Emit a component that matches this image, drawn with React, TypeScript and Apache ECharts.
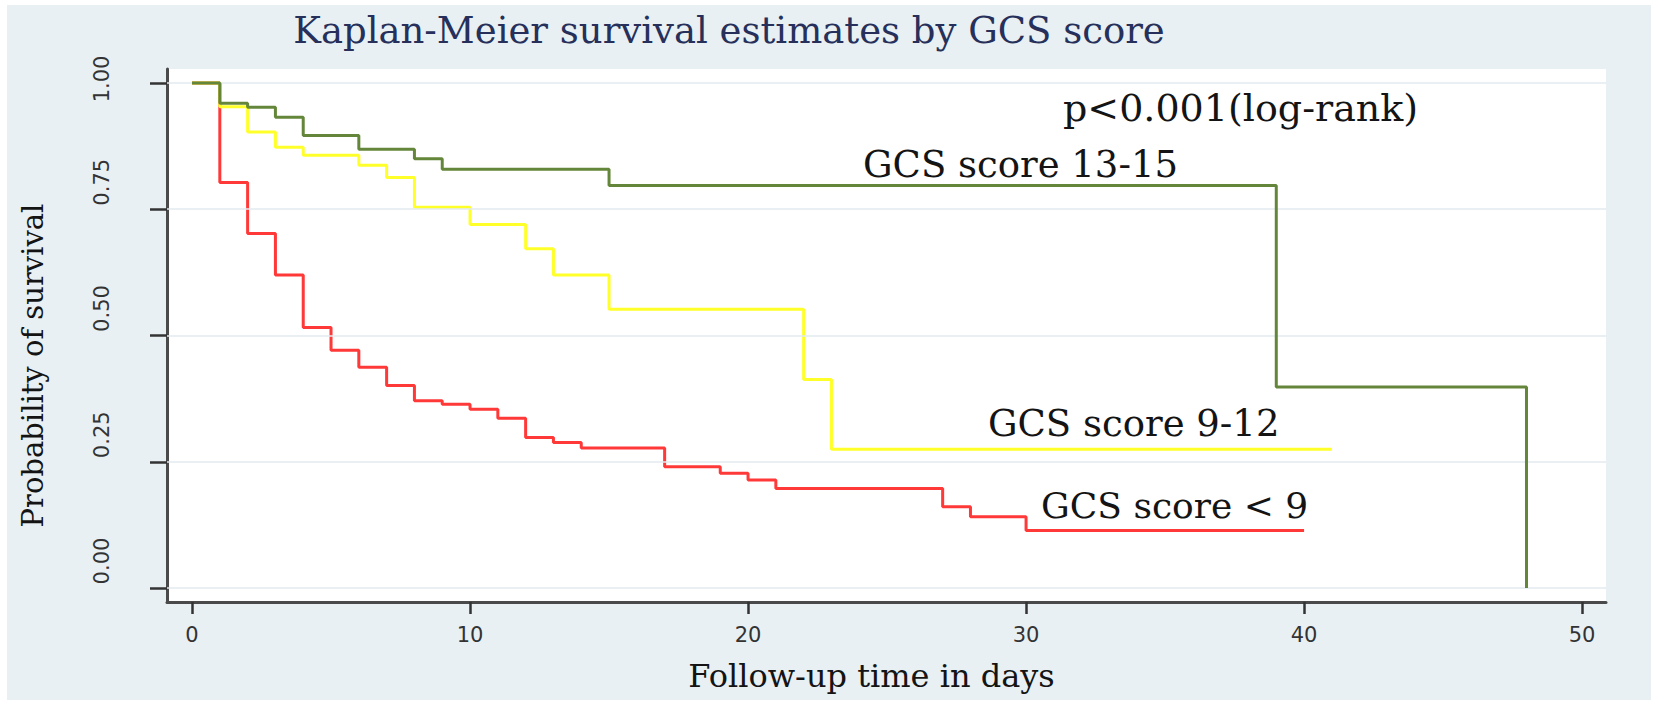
import React, { useEffect, useRef } from "react";
import * as echarts from "echarts";

// ---- data ----
const xTicks = [0, 10, 20, 30, 40, 50];
const yTicks = [0, 0.25, 0.5, 0.75, 1];

const seriesNames = ["GCS score < 9", "GCS score 9-12", "GCS score 13-15"];
const seriesColors = ["#ff3838", "#ffff2a", "#64863a"];

// [day, survival probability] after each event (Kaplan-Meier steps)
const gcsBelow9: [number, number][] = [
  [0, 1], [1, 0.803], [2, 0.702], [3, 0.62], [4, 0.516], [5, 0.471], [6, 0.437],
  [7, 0.401], [8, 0.371], [9, 0.364], [10, 0.354], [11, 0.336], [12, 0.298],
  [13, 0.288], [14, 0.277], [17, 0.24], [19, 0.227], [20, 0.214], [21, 0.197],
  [27, 0.161], [28, 0.141], [30, 0.114], [40, 0.114],
];
const gcs9to12: [number, number][] = [
  [0, 1], [1, 0.953], [2, 0.903], [3, 0.873], [4, 0.857], [6, 0.837], [7, 0.813],
  [8, 0.754], [10, 0.72], [12, 0.672], [13, 0.62], [15, 0.552], [22, 0.413],
  [23, 0.275], [41, 0.275],
];
const gcs13to15: [number, number][] = [
  [0, 1], [1, 0.96], [2, 0.952], [3, 0.932], [4, 0.896], [6, 0.869], [8, 0.85],
  [9, 0.829], [15, 0.797], [39, 0.398], [48, 0],
];
const seriesData = [gcsBelow9, gcs9to12, gcs13to15];

const titleText = "Kaplan-Meier survival estimates by GCS score";
const pValueText = "p<0.001(log-rank)";
const xAxisTitle = "Follow-up time in days";
const yAxisTitle = "Probability of survival";

const SERIF = "DejaVu Serif";
const SANS = "DejaVu Sans";

export default function App() {
  const ref = useRef<HTMLDivElement>(null);

  useEffect(() => {
    document.body.style.margin = "0";
    if (!ref.current) return;
    const chart = echarts.init(ref.current, undefined, { renderer: "svg" });

    const annotation = (text: string, x: number, y: number, align: string, size: number) => ({
      type: "text",
      x,
      y,
      z: 10,
      silent: true,
      style: {
        text,
        fill: "#141414",
        fontFamily: SERIF,
        fontSize: size,
        align,
        verticalAlign: "middle",
      },
    });

    const option: any = {
      animation: false,
      backgroundColor: "#ffffff",
      title: {
        text: titleText,
        left: 729,
        top: 12,
        textAlign: "center",
        padding: 0,
        textStyle: {
          fontFamily: SERIF,
          fontSize: 37,
          fontWeight: "normal",
          color: "#26305a",
        },
      },
      grid: {
        left: 167,
        top: 69,
        right: 51,
        bottom: 106,
        show: true,
        backgroundColor: "#ffffff",
        borderWidth: 0,
      },
      graphic: [
        {
          type: "rect",
          z: -100,
          silent: true,
          shape: { x: 7, y: 5, width: 1644, height: 695 },
          style: { fill: "#e8f0f3" },
        },
        annotation(pValueText, 1063, 108, "left", 38),
        annotation(seriesNames[2], 1178, 164, "right", 37),
        annotation(seriesNames[1], 988, 423, "left", 37),
        annotation(seriesNames[0], 1041, 505, "left", 36),
      ],
      xAxis: {
        type: "value",
        min: -0.9,
        max: 50.86,
        name: xAxisTitle,
        nameLocation: "middle",
        nameGap: 58,
        nameTextStyle: {
          fontFamily: SERIF,
          fontSize: 32,
          color: "#141414",
          padding: [0, 30, 0, 0],
        },
        axisLine: { show: true, onZero: false, lineStyle: { color: "#4a4a4a", width: 3 } },
        axisTick: {
          show: true,
          customValues: xTicks,
          length: 12,
          lineStyle: { color: "#333333", width: 2.5 },
        },
        axisLabel: {
          customValues: xTicks,
          margin: 22,
          fontFamily: SANS,
          fontSize: 21,
          color: "#333333",
        },
        splitLine: { show: false },
      },
      yAxis: {
        type: "value",
        min: -0.0277,
        max: 1.0277,
        name: yAxisTitle,
        nameLocation: "middle",
        nameGap: 120,
        nameTextStyle: {
          fontFamily: SERIF,
          fontSize: 29,
          color: "#141414",
          padding: [0, 60, 0, 0],
        },
        axisLine: { show: true, onZero: false, lineStyle: { color: "#4a4a4a", width: 3 } },
        axisTick: {
          show: true,
          customValues: yTicks,
          length: 17,
          lineStyle: { color: "#333333", width: 2.5 },
        },
        axisLabel: {
          customValues: yTicks,
          rotate: 90,
          align: "center",
          verticalAlign: "bottom",
          margin: 55,
          fontFamily: SANS,
          fontSize: 21,
          color: "#333333",
          formatter: (v: number) =>
            v >= 1 ? `{top|${v.toFixed(2)}}` : `{low|${v.toFixed(2)}}`,
          rich: {
            top: { fontFamily: SANS, fontSize: 21, color: "#333333", padding: [0, 0, 0, 8] },
            low: {
              fontFamily: SANS,
              fontSize: 21,
              color: "#333333",
              padding: [0, 0, 0, 54],
            },
          },
        },
        splitLine: { show: false },
      },
      series: [
        {
          name: "grid",
          type: "line",
          data: [],
          z: 1,
          silent: true,
          markLine: {
            silent: true,
            symbol: "none",
            animation: false,
            label: { show: false },
            lineStyle: { color: "#e2eaee", width: 1.5, type: "solid" },
            data: yTicks.map((v) => ({ yAxis: v })),
          },
        },
        ...seriesData.map((d, i) => ({
          name: seriesNames[i],
          type: "line",
          step: "end",
          data: d,
          z: 3 + i,
          symbol: "none",
          showSymbol: false,
          lineStyle: { color: seriesColors[i], width: 3 },
          itemStyle: { color: seriesColors[i] },
        })),
      ],
    };

    chart.setOption(option);
    return () => chart.dispose();
  }, []);

  return <div ref={ref} style={{ width: 1657, height: 708 }} />;
}
